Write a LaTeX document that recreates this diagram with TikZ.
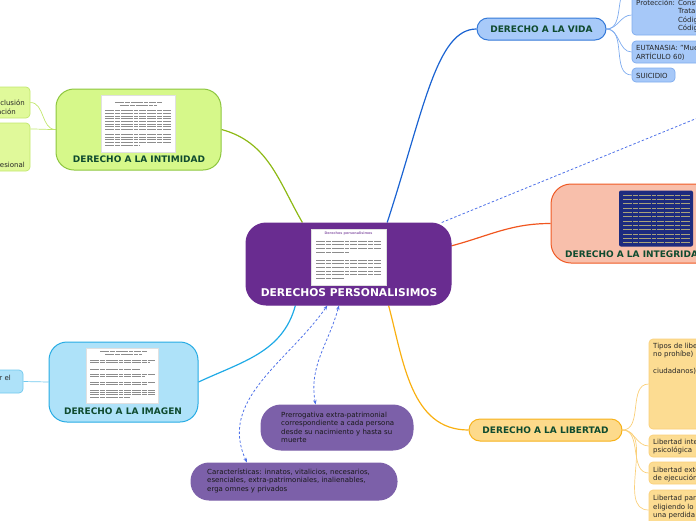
\documentclass[tikz,border=0pt]{standalone}
\usepackage{fontspec}
\setmainfont{DejaVu Sans}
\usetikzlibrary{backgrounds,arrows.meta}
\definecolor{cpurple}{HTML}{692C90}
\definecolor{rpurple}{HTML}{7C60A9}
\definecolor{relblue}{HTML}{4F72E8}
\definecolor{labgreen}{HTML}{0F4B2F}
\definecolor{vidaline}{HTML}{1A63D2}
\definecolor{vidafill}{HTML}{A8CAF9}
\definecolor{vidaborder}{HTML}{3479D8}
\definecolor{vidasubfill}{HTML}{A6C8F8}
\definecolor{vidasubborder}{HTML}{7FACEF}
\definecolor{integline}{HTML}{F0561F}
\definecolor{integfill}{HTML}{F8BFAB}
\definecolor{integborder}{HTML}{EF5A25}
\definecolor{navy}{HTML}{1D2B7F}
\definecolor{libline}{HTML}{F9B011}
\definecolor{libfill}{HTML}{FDDA8B}
\definecolor{libborder}{HTML}{F7B21B}
\definecolor{libsubfill}{HTML}{FCDC92}
\definecolor{libsubborder}{HTML}{FAD07A}
\definecolor{intline}{HTML}{8DB915}
\definecolor{intfill}{HTML}{D6F88A}
\definecolor{intborder}{HTML}{8DC63F}
\definecolor{intsubfill}{HTML}{E0F99A}
\definecolor{intsubborder}{HTML}{C2E76E}
\definecolor{imgline}{HTML}{1FAAE6}
\definecolor{imgfill}{HTML}{AEE2F9}
\definecolor{imgborder}{HTML}{27ACE4}
\definecolor{imgsubborder}{HTML}{72C9EE}
\definecolor{paneltext}{HTML}{8C8C8C}
\definecolor{navytext}{HTML}{A9A27A}

\newcommand\mlines[1]{\begin{tabular}[t]{@{}l@{}}#1\end{tabular}}

\tikzset{
 topicbox/.style={rounded corners=#1, line width=1pt, inner sep=0pt},
 subbox/.style={rounded corners=4pt, line width=0.7pt, inner sep=0pt},
 lbl/.style={font=\fontsize{9}{11}\selectfont\bfseries, text=labgreen, inner sep=0pt},
 small/.style={font=\fontsize{7}{8.5}\selectfont, text=black!85, inner sep=0pt},
 conn/.style={line width=1.2pt},
 subconn/.style={line width=0.7pt},
 rel/.style={dash pattern=on 2.5pt off 2pt, line width=0.8pt, draw=relblue},
 relarrows/.style={arrows={Stealth[length=4.5pt,width=3.5pt]-Stealth[length=4.5pt,width=3.5pt]}},
 pline/.style={line width=0.6pt, draw=paneltext, dash pattern=on 9pt off 1pt on 5pt off 1pt on 12pt off 1pt on 4pt off 1pt on 7pt off 1pt},
 nline/.style={pline, draw=navytext},
 panel/.style={fill=white, draw=black!12, line width=0.5pt, inner sep=0pt},
}

\begin{document}
\begin{tikzpicture}[x=1pt,y=-1pt]
\path[use as bounding box] (0,0) rectangle (696,520);
\clip (0,0) rectangle (696,520);

% ---------- central topic ----------
\node[topicbox=20pt, fill=cpurple, draw=cpurple, minimum width=205pt, minimum height=82pt] (c) at (348.5,264) {};
\node[panel, minimum width=75pt, minimum height=56pt] (cp) at (348.5,257) {};
\node[font=\fontsize{3.4}{4}\selectfont\bfseries, text=cpurple!70, inner sep=0pt] (cpt) at (348.5,233.5) {Derechos personalisimos};
\foreach \y/\e in {241/381,244.7/381,248.3/381,252/350,260/381,263.7/381,267.3/381,271/381,274.7/381,278.3/345}
  \draw[pline] (316,\y) -- (\e,\y);
\node[font=\fontsize{10.7}{12}\selectfont\bfseries, text=white, inner sep=0pt] (cl) at (349,293) {DERECHOS PERSONALISIMOS};

% ---------- derecho a la vida ----------
\node[topicbox=11pt, fill=vidafill, draw=vidaborder, minimum width=129pt, minimum height=22pt, lbl] (vida) at (541.5,29) {DERECHO A LA VIDA};
\node[subbox, fill=vidasubfill, draw=vidasubborder, minimum width=120pt, minimum height=40pt] (vp) at (692,15) {};
\node[small, anchor=base west] (vpt) at (636,5.2) {\begin{tabular}[t]{@{}l@{ }l@{}}Protección: & Constitución Nacional\\ & Tratados Internacionales\\ & Código Civil\\ & Código Penal\end{tabular}};
\node[subbox, fill=vidasubfill, draw=vidasubborder, minimum width=120pt, minimum height=22pt] (eut) at (692,52) {};
\node[small, anchor=base west] (eutt) at (636,50.3) {\mlines{EUTANASIA: "Muerte digna"\\ARTÍCULO 60)}};
\node[subbox, fill=vidasubfill, draw=vidasubborder, minimum width=43pt, minimum height=14pt] (sui) at (653.5,75) {};
\node[small, anchor=base west] (suit) at (636,78.3) {SUICIDIO};
\coordinate (vtop) at (632,-14);

% ---------- derecho a la integridad ----------
\node[topicbox=20pt, fill=integfill, draw=integborder, minimum width=209pt, minimum height=79pt] (integ) at (655.5,223.5) {};
\node[fill=navy, rounded corners=2pt, minimum width=74pt, minimum height=56pt, inner sep=0pt] (ip) at (656,218.5) {};
\foreach \y in {195,199.3,203.7,208,212.3,216.7,221,225.3,229.7,234,238.3,242.7}
  \draw[nline] (623,\y) -- (690,\y);
\node[lbl, anchor=west] (integl) at (565,254) {DERECHO A LA INTEGRIDAD};
\coordinate (trd) at (700,117);

% ---------- derecho a la libertad ----------
\node[topicbox=11pt, fill=libfill, draw=libborder, minimum width=153pt, minimum height=22pt, lbl] (lib) at (545.5,430) {DERECHO A LA LIBERTAD};
\node[subbox, fill=libsubfill, draw=libsubborder, minimum width=111pt, minimum height=90pt] (lt) at (704.5,384) {};
\node[small, anchor=base west] (ltt) at (653,348.3) {\mlines{Tipos de libertad\\no prohíbe)\\ \\ciudadanos)}};
\node[subbox, fill=libsubfill, draw=libsubborder, minimum width=111pt, minimum height=22pt] (li) at (704.5,446) {};
\node[small, anchor=base west] (lit) at (653,444.3) {\mlines{Libertad interior o\\psicológica}};
\node[subbox, fill=libsubfill, draw=libsubborder, minimum width=111pt, minimum height=22pt] (le) at (704.5,473) {};
\node[small, anchor=base west] (let) at (653,472.3) {\mlines{Libertad exterior o\\de ejecución}};
\node[subbox, fill=libsubfill, draw=libsubborder, minimum width=111pt, minimum height=40pt] (lp) at (704.5,510) {};
\node[small, anchor=base west] (lpt) at (653,500.6) {\mlines{Libertad para\\eligiendo lo\\una perdida}};

% ---------- derecho a la intimidad ----------
\node[topicbox=18pt, fill=intfill, draw=intborder, minimum width=165pt, minimum height=81pt] (intim) at (138.5,129.5) {};
\node[panel, minimum width=74pt, minimum height=57pt] (inp) at (138,123.5) {};
\draw[pline] (115,102.7) -- (162,102.7);
\draw[pline] (120,105.3) -- (157,105.3);
\foreach \y in {110.7,113.3,116,118.7,121.3,124,126.7,129.3,134.3,137,139.7,142.3}
  \draw[pline] (105,\y) -- (171,\y);
\draw[pline] (105,145) -- (140,145);
\node[lbl] (intl) at (139,159) {DERECHO A LA INTIMIDAD};
\node[subbox, fill=intsubfill, draw=intsubborder, minimum width=110pt, minimum height=31pt] (ic1) at (-25,102.5) {};
\node[small, anchor=base east] (ic1a) at (25,105.3) {exclusión};
\node[small, anchor=base east] (ic1b) at (16,114.3) {publicación};
\node[subbox, fill=intsubfill, draw=intsubborder, minimum width=110pt, minimum height=48pt] (ic2) at (-25,147) {};
\node[small, anchor=base east] (ic2a) at (25,167.3) {profesional};

% ---------- derecho a la imagen ----------
\node[topicbox=18pt, fill=imgfill, draw=imgborder, minimum width=149pt, minimum height=80pt] (imag) at (123.5,382) {};
\node[panel, minimum width=72pt, minimum height=55pt] (imp) at (122.5,375.5) {};
\draw[pline] (100,351.7) -- (147,351.7);
\draw[pline] (105,354.3) -- (142,354.3);
\foreach \y/\e in {360/155,362.5/150,369.3/140,374.3/155,376.7/145,382.3/155,384.7/148,390/155,392.3/155,394.7/155,397/130}
  \draw[pline] (90,\y) -- (\e,\y);
\node[lbl] (imagl) at (123,411) {DERECHO A LA IMAGEN};
\node[subbox, fill=imgfill, draw=imgsubborder, minimum width=103pt, minimum height=23pt] (imc) at (-28.5,381.5) {};
\node[small, anchor=base east] (imct) at (11,380.5) {reproducir el};

% ---------- floating purple topics ----------
\node[topicbox=20pt, fill=rpurple, draw=rpurple, minimum width=152pt, minimum height=45pt] (pr) at (337,427.5) {};
\node[small, text=black!90, anchor=base west] (prt) at (281,417.3) {\mlines{Prerrogativa extra-patrimonial\\correspondiente a cada persona\\desde su nacimiento y hasta su\\muerte}};
\node[topicbox=18pt, fill=rpurple, draw=rpurple, minimum width=206pt, minimum height=37pt] (car) at (294,481.5) {};
\node[small, text=black!90, anchor=base west] (cart) at (207,474) {\mlines{Características: innatos, vitalicios, necesarios,\\esenciales, extra-patrimoniales, inalienables,\\erga omnes y privados}};

% ---------- connectors ----------
\begin{pgfonlayer}{background}
\draw[conn, vidaline] (c.47.5) to[out=72,in=180,out looseness=1.43,in looseness=0.48] (vida.west);
\draw[conn, intline] (c.138) to[out=120,in=-15] (intim.east);
\draw[conn, integline] (c.10) to[out=15,in=180] (integ.west);
\draw[conn, libline] (c.-46) to[out=-75,in=180] (lib.west);
\draw[conn, imgline] (c.-142.5) to[out=-105,in=25] (imag.east);
\draw[rel] (c.24.6) -- (trd);
\draw[rel, relarrows] (car.158.5) to[out=115,in=-125] (c.-117.7);
\draw[rel, relarrows] (pr.133) to[out=100,in=-105] (c.-103);
\foreach \t in {vtop, vp.west, eut.west, sui.west}
  \draw[subconn, vidasubborder] (vida.east) to[out=0,in=180] (\t);
\foreach \t in {lt.west, li.west, le.west, lp.west}
  \draw[subconn, libsubborder] (lib.east) to[out=0,in=180] (\t);
\draw[subconn, intsubborder] (intim.west) to[out=180,in=0] (ic1.east);
\draw[subconn, intsubborder] (intim.west) to[out=180,in=0] (ic2.18);
\draw[subconn, imgsubborder] (imag.west) -- (imc.east);
\end{pgfonlayer}
\end{tikzpicture}
\end{document}
